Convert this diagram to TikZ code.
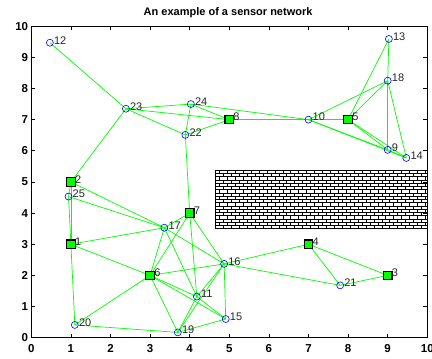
\documentclass[tikz,border=0pt]{standalone}
\usepackage{fontspec}
\setmainfont{Liberation Sans}
\usepackage{tikz}

\begin{document}
\begin{tikzpicture}[
    x=39.6pt, y=31.15pt,
    link/.style={draw=green, line width=0.7pt},
    sensor/.style={circle, draw=blue, line width=0.6pt, inner sep=0pt, minimum size=7pt},
    anchornode/.style={rectangle, draw=black, fill=green, line width=1.2pt, inner sep=0pt, minimum size=8.5pt},
    idlabel/.style={anchor=west, inner sep=0pt, text=black!85, font=\fontsize{11}{12}\selectfont},
    ticklabel/.style={inner sep=0pt, font=\bfseries\fontsize{11.5}{12}\selectfont},
    brick/.style={draw=black, line width=0.5pt}
]
    \useasboundingbox (-0.790,-0.652) rectangle (10.119,10.841);

    \foreach \n/\x/\y in {1/1/3, 2/1/5, 3/9/2, 4/7/3, 5/8/7, 6/3/2, 7/4/4, 8/5/7,
        9/9/6.03, 10/7/7, 11/4.18/1.32, 12/0.47/9.47, 13/9.03/9.59, 14/9.47/5.77,
        15/4.91/0.6, 16/4.87/2.37, 17/3.36/3.53, 18/9/8.25, 19/3.7/0.17,
        20/1.1/0.41, 21/7.8/1.68, 22/3.89/6.51, 23/2.39/7.35, 24/4.03/7.5, 25/0.94/4.53}
        \coordinate (n\n) at (\x,\y);

    % obstacle
    \draw[brick] (4.65,3.5) rectangle (10,5.38);
    \foreach \i in {1,...,17}
        \draw[brick] (4.65,{3.5+\i*0.10444}) -- (10,{3.5+\i*0.10444});
    \begin{scope}
        \clip (4.65,3.5) rectangle (10,5.38);
        \foreach \i in {0,...,17}
            \foreach \k in {0,...,27}
                \draw[brick] ({4.65+\k*0.2+mod(\i,2)*0.1},{3.5+\i*0.10444}) -- ++(0,0.10444);
    \end{scope}

    % axes
    \draw[line width=0.8pt] (0,0) rectangle (10,10);
    \foreach \t in {0,...,10} {
        \draw[line width=0.6pt] (\t,0) -- ++(0,4pt);
        \draw[line width=0.6pt] (\t,10) -- ++(0,-4pt);
        \draw[line width=0.6pt] (0,\t) -- ++(4pt,0);
        \draw[line width=0.6pt] (10,\t) -- ++(-4pt,0);
        \node[ticklabel, anchor=north] (xt\t) at ([yshift=-7pt]\t,0) {\t};
        \node[ticklabel, anchor=east] (yt\t) at ([xshift=-3pt]0,\t) {\t};
    }
    \node[font=\bfseries\fontsize{11}{12}\selectfont, inner sep=0pt] (title) at (4.97,10.42) {An example of a sensor network};

    \foreach \a/\b in {12/23, 23/2, 23/24, 23/8, 23/22, 24/22, 24/8, 24/10, 22/8, 22/7,
        8/10, 10/5, 10/18, 10/9, 10/14, 5/13, 5/18, 5/9, 5/14, 13/18, 18/9, 18/14, 9/14,
        2/25, 2/1, 25/1, 2/17, 25/17, 1/17, 1/6, 1/20, 20/6, 20/19, 17/7, 17/6, 17/11,
        17/16, 7/6, 7/11, 7/16, 6/16, 6/11, 6/15, 6/19, 11/19, 11/16, 11/15, 19/16,
        19/15, 16/15, 16/4, 16/21, 4/21, 4/3, 21/3}
        \draw[link] (n\a) -- (n\b);

    \foreach \n in {1,...,25}
        \node[idlabel] (l\n) at ([shift={(4pt,2.5pt)}]n\n) {\n};

    \foreach \n in {9,...,25}
        \node[sensor] (s\n) at (n\n) {};
    \foreach \n in {1,...,8}
        \node[anchornode] (a\n) at (n\n) {};
\end{tikzpicture}
\end{document}
